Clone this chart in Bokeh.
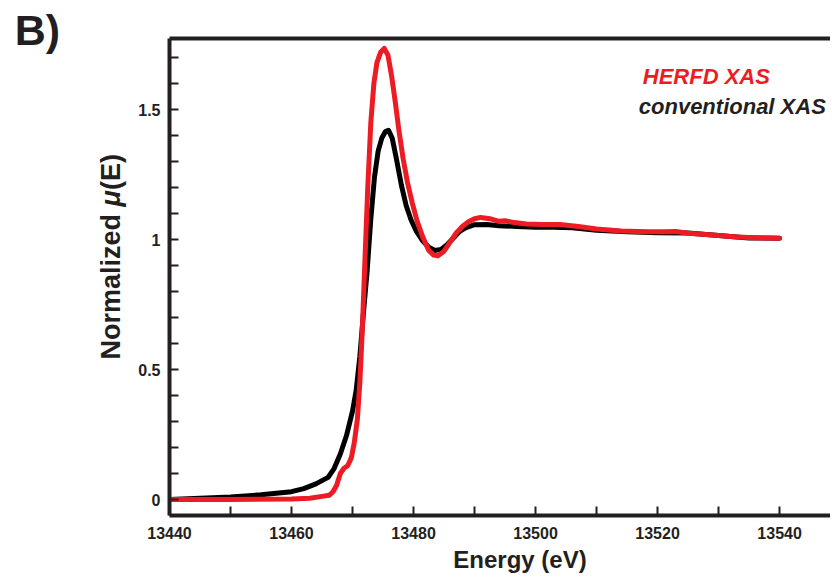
import math
from bokeh.plotting import figure
from bokeh.models import Range1d, FixedTicker, LinearAxis, Label, BasicTickFormatter
from bokeh.embed import file_html
from bokeh.resources import INLINE

# ---------------- data ----------------
conv_energy = [13440, 13445, 13450, 13455, 13460, 13462, 13464, 13466, 13467, 13468,
               13469, 13470, 13470.6, 13471.2, 13471.8, 13472.4, 13473, 13473.6, 13474.2,
               13474.8, 13475.4, 13475.9, 13476.5, 13477.2, 13478, 13478.8, 13479.6,
               13480.5, 13481.5, 13482.5, 13483.5, 13484.5, 13485.5, 13486.5, 13487.5,
               13488.5, 13490, 13492, 13494, 13497, 13500, 13503, 13506, 13510, 13515,
               13520, 13525, 13530, 13535, 13540]
conv_mu = [0.0, 0.005, 0.01, 0.018, 0.03, 0.042, 0.06, 0.085, 0.12, 0.175,
           0.245, 0.34, 0.42, 0.55, 0.72, 0.88, 1.08, 1.24, 1.34,
           1.39, 1.415, 1.42, 1.39, 1.31, 1.21, 1.13, 1.075,
           1.03, 0.995, 0.97, 0.958, 0.962, 0.98, 1.005, 1.03,
           1.045, 1.057, 1.058, 1.053, 1.05, 1.047, 1.047, 1.045, 1.036, 1.03,
           1.026, 1.025, 1.015, 1.006, 1.005]

herfd_energy = [13440, 13450, 13460, 13463, 13465, 13466.2, 13466.8, 13467.4, 13468, 13468.6,
                13469.2, 13469.8, 13470.3, 13470.8, 13471.2, 13471.6, 13472, 13472.5, 13473,
                13473.5, 13474, 13474.6, 13475.2, 13475.8, 13476.4, 13477, 13477.6, 13478.3,
                13479, 13479.8, 13480.6, 13481.5, 13482.5, 13483.3, 13484, 13485, 13486,
                13487, 13488, 13489, 13490, 13491, 13492.5, 13494, 13495, 13496.5, 13498.5,
                13501, 13504, 13507, 13510, 13514, 13518, 13521, 13523, 13525, 13529,
                13533, 13537, 13540]
herfd_mu = [0.0, 0.0, 0.002, 0.005, 0.012, 0.016, 0.03, 0.055, 0.1, 0.12,
            0.13, 0.16, 0.22, 0.31, 0.45, 0.65, 0.9, 1.2, 1.45,
            1.6, 1.68, 1.72, 1.735, 1.71, 1.63, 1.53, 1.42, 1.31,
            1.22, 1.14, 1.07, 1.01, 0.958, 0.94, 0.937, 0.955, 0.99,
            1.025, 1.05, 1.068, 1.08, 1.085, 1.08, 1.07, 1.072, 1.065, 1.06,
            1.058, 1.058, 1.05, 1.04, 1.033, 1.03, 1.03, 1.031, 1.024, 1.017,
            1.01, 1.006, 1.005]

x_major_ticks = [13440, 13460, 13480, 13500, 13520, 13540]
x_minor_ticks = [13450, 13470, 13490, 13510, 13530]
y_major_ticks = [0, 0.5, 1, 1.5]
y_major_labels = ["0", "0.5", "1", "1.5"]
y_minor_ticks = [0.1, 0.2, 0.3, 0.4, 0.6, 0.7, 0.8, 0.9, 1.1, 1.2, 1.3, 1.4, 1.6, 1.7]

panel_label = "B)"
x_title = "Energy (eV)"
y_title_parts = ["Normalized ", "\u03bc", "(E)"]
legend_texts = ["HERFD XAS", "conventional XAS"]

RED = "#ed1c24"
BLACK = "#000000"
INK = "#231f20"
FONT = "Liberation Sans"

# ---------------- figure ----------------
W, H = 830, 576
FL, FT, FB = 168, 38, 515          # frame left / top / bottom in pixels
PX_PER_EV = 6.11
PX_PER_MU = 260.0
Y0_PX = 499                         # pixel row of mu = 0

x_end = 13440 + (W - FL) / PX_PER_EV
y_top = (Y0_PX - FT) / PX_PER_MU
y_bot = (Y0_PX - FB) / PX_PER_MU

p = figure(width=W, height=H, output_backend="svg", toolbar_location=None,
           x_range=Range1d(13440, x_end), y_range=Range1d(y_bot, y_top),
           min_border_left=FL, min_border_right=0, min_border_top=FT,
           min_border_bottom=H - FB)
p.grid.visible = False
p.outline_line_color = None
p.background_fill_color = "white"
p.border_fill_color = "white"

def style_axis(ax):
    ax.axis_line_color = INK
    ax.axis_line_width = 4
    ax.major_tick_line_color = INK
    ax.minor_tick_line_color = INK
    ax.major_tick_line_width = 2
    ax.minor_tick_line_width = 2
    ax.major_tick_in = 9
    ax.major_tick_out = 0
    ax.minor_tick_in = 9
    ax.minor_tick_out = 0
    ax.major_label_text_font = FONT
    ax.major_label_text_font_style = "bold"
    ax.major_label_text_font_size = "16px"
    ax.major_label_text_color = INK

xa = p.xaxis[0]
style_axis(xa)
xa.major_label_standoff = 11
xa.ticker = FixedTicker(ticks=x_major_ticks, minor_ticks=x_minor_ticks)
xa.formatter = BasicTickFormatter(use_scientific=False)

ya = p.yaxis[0]
style_axis(ya)
ya.major_label_standoff = 9
ya.ticker = FixedTicker(ticks=y_major_ticks, minor_ticks=y_minor_ticks)
ya.major_label_overrides = {t: s for t, s in zip(y_major_ticks, y_major_labels)}

top = LinearAxis(ticker=FixedTicker(ticks=[]), axis_line_color=INK, axis_line_width=4,
                 major_label_text_font_size="0px", major_tick_line_color=None,
                 minor_tick_line_color=None)
p.add_layout(top, "above")

# ---------------- curves ----------------
p.line(conv_energy, conv_mu, line_color=BLACK, line_width=5, line_join="round", line_cap="round")
p.line(herfd_energy, herfd_mu, line_color=RED, line_width=5, line_join="round", line_cap="round")

# ---------------- texts (positions in data units) ----------------
def E(px):
    return 13440 + (px - FL) / PX_PER_EV

def M(py):
    return (Y0_PX - py) / PX_PER_MU

# panel letter and axis titles live in side panels so that they are not clipped
p.add_layout(Label(x=E(13), y=M(29), text=panel_label, text_font=FONT, text_font_style="bold",
                   text_font_size="43px", text_color=INK, text_align="left",
                   text_baseline="alphabetic"), "left")

p.add_layout(Label(x=E(519), y=M(559), text=x_title, text_font=FONT, text_font_style="bold",
                   text_font_size="24px", text_color=INK, text_align="center",
                   text_baseline="alphabetic"), "below")

fs = 27
widths_em = [5.39 + 0.278, 0.611, 1.333]
styles = ["bold", "bold italic", "bold"]
ystart = 359.0
for part, w, st in zip(y_title_parts, widths_em, styles):
    p.add_layout(Label(x=E(109), y=M(ystart), text=part, angle=math.pi / 2,
                       text_font=FONT, text_font_style=st, text_font_size=f"{fs}px",
                       text_color=INK, text_align="left", text_baseline="alphabetic"), "left")
    ystart -= w * fs

p.add_layout(Label(x=E(642), y=M(76), text=legend_texts[0], text_font=FONT,
                   text_font_style="bold italic", text_font_size="22px", text_color=RED,
                   text_align="left", text_baseline="alphabetic"))
p.add_layout(Label(x=E(638), y=M(106), text=legend_texts[1], text_font=FONT,
                   text_font_style="bold italic", text_font_size="22px", text_color=INK,
                   text_align="left", text_baseline="alphabetic"))

open("out.html", "w").write(file_html(p, INLINE))
